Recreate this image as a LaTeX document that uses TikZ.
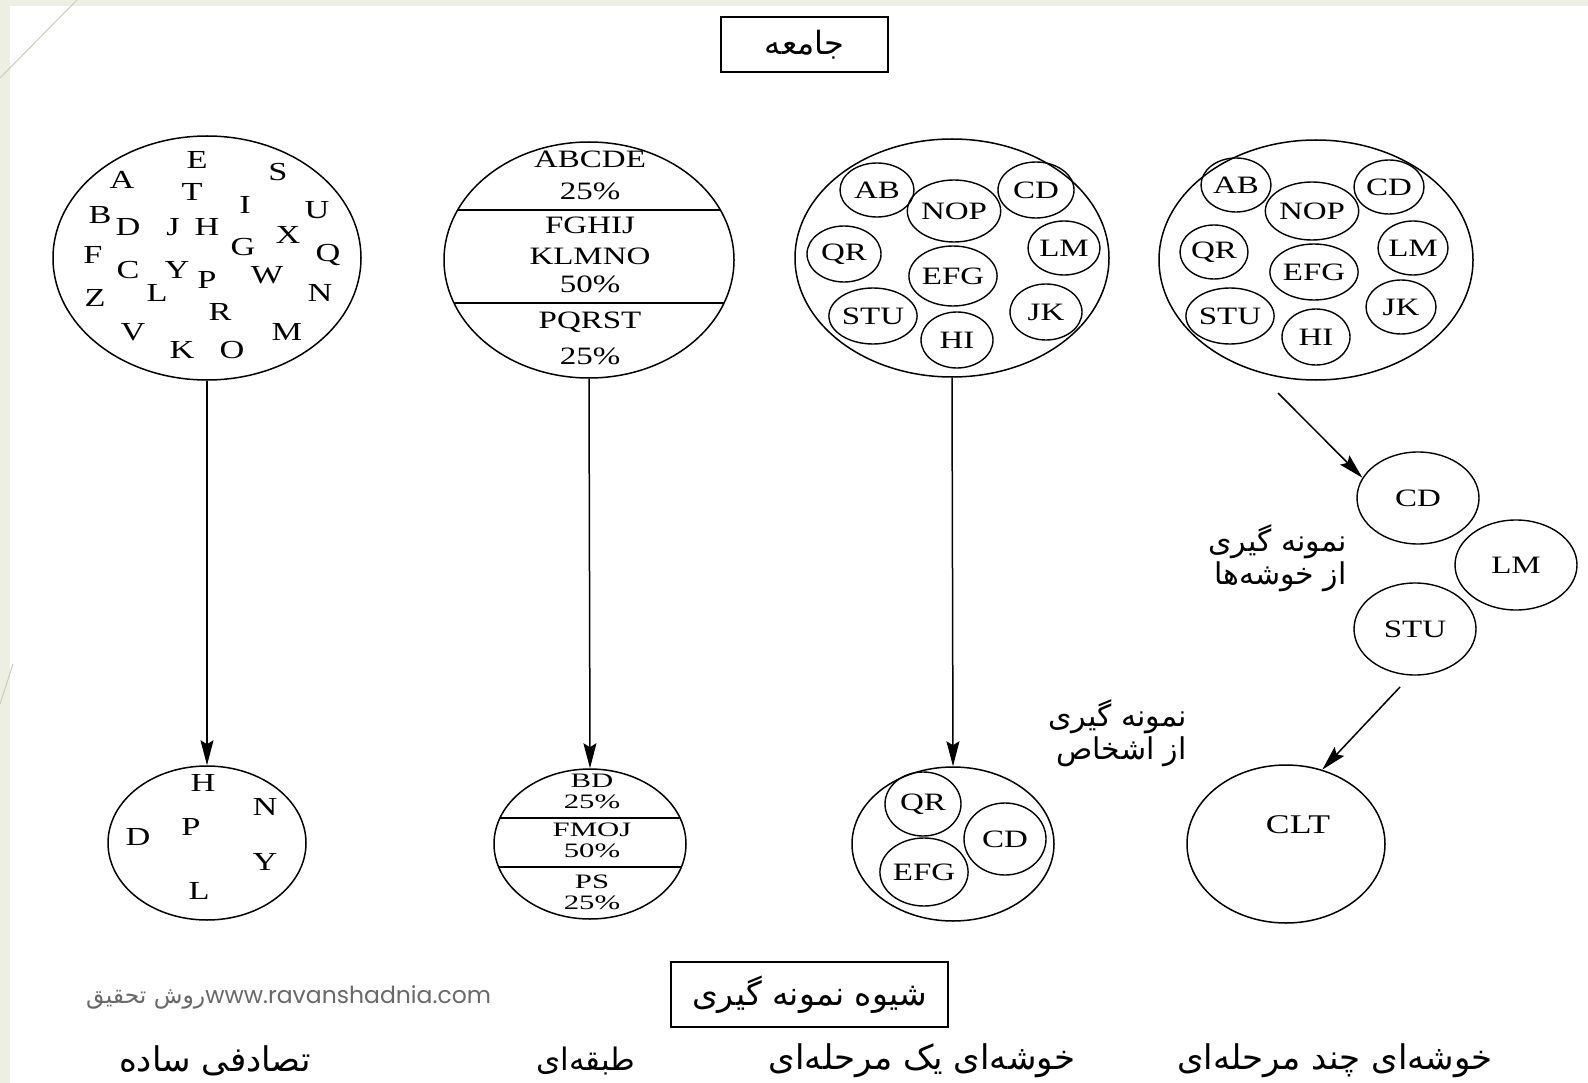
\documentclass[tikz,border=0pt]{standalone}
\usepackage{fontspec}
\setmainfont{Liberation Serif}
\newfontfamily\fa[Script=Arabic]{DejaVu Sans}
\newfontfamily\webfont{Poppins}
\TeXXeTstate=1
\usetikzlibrary{arrows.meta,shapes.geometric}
\definecolor{slidebg}{RGB}{236,239,226}
\definecolor{slideline}{RGB}{200,206,186}
\definecolor{markgrey}{RGB}{105,105,105}
\newcommand\wx[1]{\scalebox{1.32}[1]{#1}}
\newcommand\wxx[1]{\scalebox{1.5}[1]{#1}}
\newcommand\fatext[1]{{\fa\beginR #1\endR}}

\begin{document}
\begin{tikzpicture}[x=1pt,y=-1pt,
  ell/.style={ellipse, draw, line width=1.5pt, inner sep=0pt},
  sub/.style={ellipse, draw, line width=1.4pt, inner sep=0pt,
              font=\fontsize{25}{28}\selectfont},
  lt/.style={inner sep=0pt, font=\fontsize{26}{30}\selectfont},
  st/.style={inner sep=0pt, font=\fontsize{25}{28}\selectfont},
  sm/.style={inner sep=0pt, font=\fontsize{20.5}{22}\selectfont},
  fabox/.style={draw, line width=1.5pt, inner sep=0pt},
  falbl/.style={inner sep=0pt, font=\fontsize{30}{33}\selectfont, align=right},
  method/.style={inner sep=0pt, font=\fontsize{34}{38}\selectfont},
  arr/.style={line width=1.5pt, -{Stealth[length=25pt,width=13pt,inset=4pt]}}]

\useasboundingbox (0,0) rectangle (1588,1083);
% slide frame
\fill[slidebg] (0,0) rectangle (1588,1083);
\fill[white] (10,6) rectangle (1588,1083);
\draw[slideline, line width=1pt] (77,0) -- (0,78);
\draw[slideline, line width=1pt] (13,664) -- (0,704);

% population box
\node[fabox, minimum width=167pt, minimum height=55pt] (pop) at (804.5,44.5)
  {\fontsize{32}{36}\selectfont\fatext{جامعه}};

% ---------- simple random population ----------
\node[ell, minimum width=308pt, minimum height=244pt] (e1) at (207,258) {};
\foreach \t/\x/\y in {E/197/160, A/122/180, S/278/172, T/192/192, I/245/205,
  U/317/210, B/100/215, D/128/227, J/173/227, H/207/227, X/288/235,
  G/243/247, Q/328/255, F/93/255, C/128/270, Y/177/270, P/207/280,
  W/267/275, N/320/293, Z/95/298, L/157/293, R/220/312, V/133/332,
  M/287/332, K/182/350, O/232/350}
  \node[lt] (p1-\t) at (\x,\y) {\wx{\t}};

% ---------- stratified population ----------
\node[ell, minimum width=290pt, minimum height=236pt] (e2) at (589,260) {};
\begin{scope}
  \clip (589,260) ellipse [x radius=145pt, y radius=118pt];
  \draw[line width=1.5pt] (430,210) -- (750,210);
  \draw[line width=1.5pt] (430,303) -- (750,303);
\end{scope}
\node[st] (s1a) at (590,159) {\wx{ABCDE}};
\node[st] (s1b) at (590,191) {\wx{25\%}};
\node[st] (s2a) at (590,225) {\wx{FGHIJ}};
\node[st] (s2b) at (590,256) {\wx{KLMNO}};
\node[st] (s2c) at (590,284) {\wx{50\%}};
\node[st] (s3a) at (590,322) {\wx{PQRST}};
\node[st] (s3b) at (590,356) {\wx{25\%}};

% ---------- one-stage cluster population ----------
\node[ell, minimum width=314pt, minimum height=238pt] (e3) at (952,258) {};
\foreach \t/\x/\y/\w/\h in {AB/877/190/74/54, NOP/954/211/78/62,
  CD/1036/190/76/56, QR/844/254/74/56, EFG/953/276/74/60,
  LM/1064/248/72/54, STU/873/316/70/56, JK/1046/312/72/56,
  HI/957/340/72/56}
  \node[sub, minimum width=\w pt, minimum height=\h pt] (c3-\t) at (\x,\y) {\wx{\t}};

% ---------- multi-stage cluster population ----------
\node[ell, minimum width=314pt, minimum height=240pt] (e4) at (1316,260) {};
\foreach \t/\x/\y/\w/\h in {AB/1236/185/70/54, NOP/1312/211/72/58,
  CD/1389/187/70/54, QR/1214/252/68/54, EFG/1314/272/68/56,
  LM/1413/248/68/54, STU/1230/316/72/56, JK/1401/307/70/54,
  HI/1316/337/68/56}
  \node[sub, minimum width=\w pt, minimum height=\h pt] (c4-\t) at (\x,\y) {\wx{\t}};

% selected clusters
\node[sub, minimum width=122pt, minimum height=92pt] (m-CD) at (1418,498) {\wx{CD}};
\node[sub, minimum width=122pt, minimum height=90pt] (m-LM) at (1516,565) {\wx{LM}};
\node[sub, minimum width=122pt, minimum height=92pt] (m-STU) at (1415,629) {\wx{STU}};

\node[falbl, anchor=east] (lab1) at (1347,558)
  {\fatext{نمونه گیری}\\\fatext{از خوشه‌ها}};
\node[falbl, anchor=east] (lab2) at (1187,733)
  {\fatext{نمونه گیری}\\\fatext{از اشخاص}};

% ---------- samples ----------
\node[ell, minimum width=198pt, minimum height=154pt] (b1) at (207,843) {};
\foreach \t/\x/\y in {H/203/783, N/265/807, D/138/837, P/191/827,
  Y/265/862, L/199/891}
  \node[lt] (q1-\t) at (\x,\y) {\wx{\t}};

\node[ell, minimum width=192pt, minimum height=150pt] (b2) at (590,844) {};
\begin{scope}
  \clip (590,844) ellipse [x radius=96pt, y radius=75pt];
  \draw[line width=1.5pt] (480,818) -- (700,818);
  \draw[line width=1.5pt] (480,867) -- (700,867);
\end{scope}
\node[sm] (t1a) at (592,781) {\wxx{BD}};
\node[sm] (t1b) at (592,802) {\wxx{25\%}};
\node[sm] (t2a) at (592,830) {\wxx{FMOJ}};
\node[sm] (t2b) at (592,851) {\wxx{50\%}};
\node[sm] (t3a) at (592,882) {\wxx{PS}};
\node[sm] (t3b) at (592,903) {\wxx{25\%}};

\node[ell, minimum width=202pt, minimum height=154pt] (b3) at (953,844) {};
\node[sub, minimum width=76pt, minimum height=64pt] (d-QR) at (923,804) {\wx{QR}};
\node[sub, minimum width=82pt, minimum height=72pt] (d-CD) at (1005,839) {\wx{CD}};
\node[sub, minimum width=80pt, minimum height=68pt] (d-EFG) at (924,872) {\wx{EFG}};

\node[ell, minimum width=198pt, minimum height=158pt] (b4) at (1286,844) {};
\node[inner sep=0pt, font=\fontsize{27}{30}\selectfont] (clt) at (1298,825) {\wx{CLT}};

% ---------- connectors ----------
\draw[arr] (e1.south) -- (b1.north);
\draw[arr] (e2.south) -- (b2.north);
\draw[arr] (e3.south) -- (b3.north);
\coordinate (g1) at (1278,393);
\draw[arr] (g1) -- (m-CD.160);
\coordinate (g2) at (1400,687);
\draw[arr] (g2) -- (b4.64);

% ---------- captions ----------
\node[fabox, minimum width=277pt, minimum height=65pt] (method) at (809.5,994.5)
  {\fontsize{33}{36}\selectfont\fatext{شیوه نمونه گیری}};
\node[inner sep=0pt, anchor=west, text=markgrey] (mark) at (86,997)
  {\fontsize{23.5}{26}\selectfont\fatext{روش تحقیق}\webfont www.ravanshadnia.com};

\node[method] (m1) at (215,1061) {\fatext{تصادفی ساده}};
\node[method] (m2) at (586,1061) {\fontsize{31}{36}\selectfont\fatext{طبقه‌ای}};
\node[method] (m3) at (922,1061) {\fatext{خوشه‌ای یک مرحله‌ای}};
\node[method] (m4) at (1335,1061) {\fatext{خوشه‌ای چند مرحله‌ای}};
\end{tikzpicture}
\end{document}
